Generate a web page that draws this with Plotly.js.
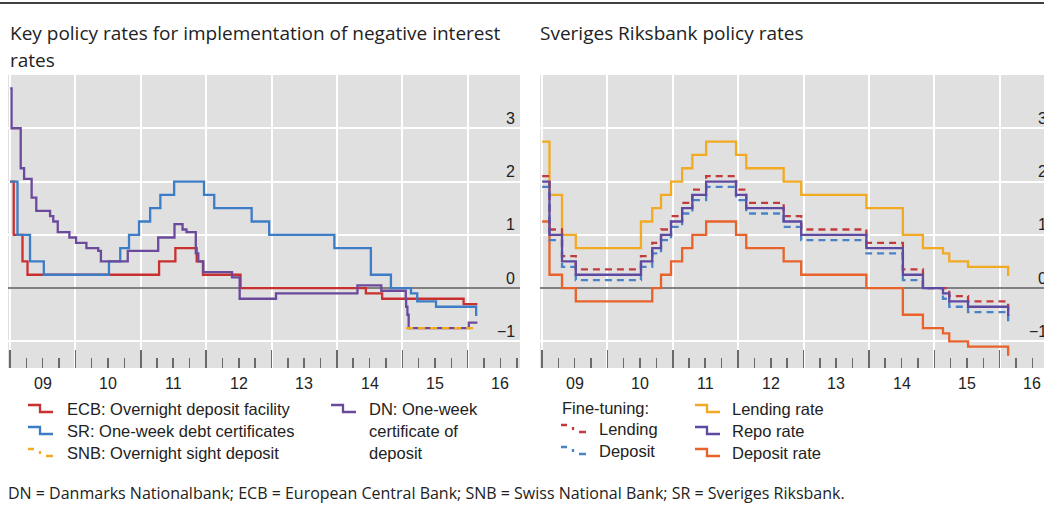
<!DOCTYPE html>
<html><head><meta charset="utf-8">
<script src="https://cdn.plot.ly/plotly-3.0.1.min.js"></script>
<style>html,body{margin:0;padding:0;background:#fff;overflow:hidden;width:1044px;height:506px}#chart{width:1060px;height:506px}</style>
</head><body><div id="chart"></div>
<script>
// ---------- Left panel data ----------
const ecbDates = ['2009-01-01','2009-01-21','2009-03-11','2009-04-08','2011-04-13','2011-07-13','2011-11-09','2011-12-14','2012-07-11','2014-06-11','2014-09-10','2015-12-09','2016-02-24'];
const ecbRates = [2.00,1.00,0.50,0.25,0.50,0.75,0.50,0.25,0.00,-0.10,-0.20,-0.30,-0.30];

const srDates = ['2009-01-01','2009-02-11','2009-04-22','2009-07-08','2010-07-07','2010-09-08','2010-10-27','2010-12-22','2011-02-22','2011-04-20','2011-07-06','2011-12-20','2012-02-15','2012-09-11','2012-12-18','2013-12-17','2014-07-09','2014-10-29','2015-02-18','2015-03-25','2015-07-08','2016-02-17','2016-02-24'];
const srRates = [2.00,1.00,0.50,0.25,0.50,0.75,1.00,1.25,1.50,1.75,2.00,1.75,1.50,1.25,1.00,0.75,0.25,0.00,-0.10,-0.25,-0.35,-0.50,-0.50];

const snbDates = ['2015-01-22','2016-02-24'];
const snbRates = [-0.75,-0.75];

const dnDates = ['2009-01-01','2009-01-09','2009-03-01','2009-03-20','2009-05-01','2009-05-27','2009-08-12','2009-08-30','2009-09-24','2009-11-28','2010-01-04','2010-03-03','2010-05-08','2010-05-23','2010-10-20','2011-04-08','2011-07-08','2011-08-22','2011-09-13','2011-11-04','2011-11-18','2011-12-16','2012-05-24','2012-07-06','2013-01-25','2014-04-25','2014-09-05','2015-01-20','2015-01-22','2015-01-29','2015-02-05','2016-01-07','2016-02-24'];
const dnRates = [3.75,3.00,2.25,2.05,1.70,1.45,1.35,1.25,1.05,0.95,0.85,0.75,0.70,0.50,0.70,0.95,1.20,1.10,1.05,0.65,0.50,0.30,0.20,-0.20,-0.10,0.05,-0.05,-0.20,-0.35,-0.50,-0.75,-0.65,-0.65];

// ---------- Right panel data (Sveriges Riksbank) ----------
const rbDates = ['2009-01-01','2009-02-11','2009-04-22','2009-07-08','2010-07-07','2010-09-08','2010-10-27','2010-12-22','2011-02-22','2011-04-20','2011-07-06','2011-12-20','2012-02-15','2012-09-11','2012-12-18','2013-12-17','2014-07-09','2014-10-29','2015-02-18','2015-03-25','2015-07-08','2016-02-17','2016-02-24'];
const lendingRate = [2.75,1.75,1.00,0.75,1.25,1.50,1.75,2.00,2.25,2.50,2.75,2.50,2.25,2.00,1.75,1.50,1.00,0.75,0.65,0.50,0.40,0.25,0.25];
const repoRate    = [2.00,1.00,0.50,0.25,0.50,0.75,1.00,1.25,1.50,1.75,2.00,1.75,1.50,1.25,1.00,0.75,0.25,0.00,-0.10,-0.25,-0.35,-0.50,-0.50];
const depositRate = [1.25,0.25,0.00,-0.25,-0.25,0.00,0.25,0.50,0.75,1.00,1.25,1.00,0.75,0.50,0.25,0.00,-0.50,-0.75,-0.85,-1.00,-1.10,-1.25,-1.25];
const ftLending   = [2.10,1.10,0.60,0.35,0.60,0.85,1.10,1.35,1.60,1.85,2.10,1.85,1.60,1.35,1.10,0.85,0.35,0.00,0.00,-0.15,-0.25,-0.40,-0.40];
const ftDeposit   = [1.90,0.90,0.40,0.15,0.40,0.65,0.90,1.15,1.40,1.65,1.90,1.65,1.40,1.15,0.90,0.65,0.15,0.00,-0.20,-0.35,-0.45,-0.60,-0.60];

// ---------- tick labels ----------
const yTickVals = [-1, 0, 1, 2, 3];
const yTickText = ['\u22121', '0', '1', '2', '3'];
const yearLabels = ['09', '10', '11', '12', '13', '14', '15', '16'];

// ---------- styles ----------
const C = {ecb:'#c8312f', sr:'#3d7cc6', snb:'#f2aa22', dn:'#6b4a9c',
           lend:'#f2aa22', repo:'#5e4aa0', dep:'#e8622a', ftl:'#c23a3a', ftd:'#4a82c6'};
const W = 1060, H = 506;
const px = x => x / W, py = y => 1 - y / H;
const LW = 2.3;
const TXT = 'Liberation Sans, Arial, sans-serif';
const TTL = 'Open Sans, Noto Sans, sans-serif';
const tickFont = {family: TXT, size: 16, color: '#222'};

function tr(x, y, color, xa, ya, dash) {
  return {x: x, y: y, type: 'scatter', mode: 'lines', xaxis: xa, yaxis: ya,
          line: {shape: 'hv', color: color, width: LW, dash: dash || 'solid'},
          hoverinfo: 'skip', showlegend: false};
}

const data = [
  tr(ecbDates, ecbRates, C.ecb, 'x', 'y'),
  tr(srDates, srRates, C.sr, 'x', 'y'),
  tr(dnDates, dnRates, C.dn, 'x', 'y'),
  tr(snbDates, snbRates, C.snb, 'x', 'y', '7px,5px'),
  tr(rbDates, lendingRate, C.lend, 'x2', 'y2'),
  tr(rbDates, depositRate, C.dep, 'x2', 'y2'),
  tr(rbDates, ftLending, C.ftl, 'x2', 'y2', '7px,5px'),
  tr(rbDates, ftDeposit, C.ftd, 'x2', 'y2', '7px,5px'),
  tr(rbDates, repoRate, C.repo, 'x2', 'y2')
];

function xAxis(dom, anchor) {
  return {domain: dom, anchor: anchor, type: 'date', range: ['2008-12-20', '2016-10-19'],
    tick0: '2009-01-01', dtick: 'M12', showticklabels: false,
    ticks: 'inside', ticklen: 18, tickwidth: 1.5, tickcolor: '#6a6a6a',
    showgrid: true, gridcolor: '#ffffff', gridwidth: 2, zeroline: false, showline: false,
    minor: {dtick: 'M3', tick0: '2009-01-01', ticks: 'inside', ticklen: 10, tickwidth: 1.5, tickcolor: '#6a6a6a', showgrid: false},
    fixedrange: true};
}
function yAxis(anchor) {
  return {domain: [py(368), py(75)], anchor: anchor, range: [-1.5, 4], side: 'right',
    tickvals: yTickVals, showticklabels: false, ticks: '',
    showgrid: true, gridcolor: '#ffffff', gridwidth: 2,
    zeroline: true, zerolinecolor: '#808080', zerolinewidth: 2, fixedrange: true};
}

const ann = [], shp = [];
function txt(x, y, t, font) {
  ann.push({xref: 'paper', yref: 'paper', x: px(x), y: py(y), xanchor: 'left', yanchor: 'middle',
            text: t, showarrow: false, font: font || {family: TXT, size: 16.5, color: '#222'}});
}
// axis tick labels (years centred in each year, values above their grid lines)
[['x', 'y', 517], ['x2', 'y2', 1049]].forEach(([xa, ya, xr]) => {
  yearLabels.forEach(l => ann.push({xref: xa, yref: 'paper', x: '20' + l + '-07-02', y: py(383),
    xanchor: 'center', yanchor: 'middle', text: l, showarrow: false, font: tickFont}));
  yTickVals.forEach((v, i) => ann.push({xref: 'paper', yref: ya, x: px(xr), y: v,
    xanchor: 'right', yanchor: 'middle', yshift: 10, text: yTickText[i], showarrow: false, font: tickFont}));
});

function stepSym(x0, yc, color, dashed) {
  const a = px(x0), b = px(x0 + 12), c = px(x0 + 25), t = py(yc - 4), u = py(yc + 3);
  if (!dashed) {
    shp.push({type: 'path', xref: 'paper', yref: 'paper', path: `M${a},${t} H${b} V${u} H${c}`,
              line: {color: color, width: LW}});
  } else {
    shp.push({type: 'path', xref: 'paper', yref: 'paper',
              path: `M${a},${t} H${px(x0 + 6)} M${b},${py(yc - 2)} V${py(yc + 1)} M${px(x0 + 18)},${u} H${c}`,
              line: {color: color, width: LW}});
  }
}
// left legend
const leftNames = ['ECB: Overnight deposit facility', 'SR: One-week debt certificates', 'SNB: Overnight sight deposit'];
const leftCols = [C.ecb, C.sr, C.snb];
const rowsY = [409, 431, 453];
leftNames.forEach((n, i) => { stepSym(28, rowsY[i], leftCols[i], i === 2); txt(65, rowsY[i], n); });
stepSym(331, 409, C.dn, false);
txt(367, 409, 'DN: One-week'); txt(367, 431, 'certificate of'); txt(367, 453, 'deposit');
// right legend
txt(560, 408, 'Fine-tuning:');
stepSym(561, 429, C.ftl, true); txt(597, 429, 'Lending');
stepSym(561, 451, C.ftd, true); txt(597, 451, 'Deposit');
const rightNames = ['Lending rate', 'Repo rate', 'Deposit rate'];
const rightCols = [C.lend, C.repo, C.dep];
rightNames.forEach((n, i) => { stepSym(695, rowsY[i], rightCols[i], false); txt(730, rowsY[i], n); });

// titles & footnote
const tf = {family: TTL, size: 19, color: '#222'};
txt(8, 33, 'Key policy rates for implementation of negative interest', tf);
txt(8, 60, 'rates', tf);
txt(538, 33, 'Sveriges Riksbank policy rates', tf);
txt(6, 493, 'DN = Danmarks Nationalbank; ECB = European Central Bank; SNB = Swiss National Bank; SR = Sveriges Riksbank.',
    {family: TTL, size: 16, color: '#222'});
// top rule
shp.push({type: 'line', xref: 'paper', yref: 'paper', x0: 0, x1: px(1044), y0: py(3), y1: py(3), line: {color: '#000', width: 1.5}});

const layout = {
  width: W, height: H, margin: {l: 0, r: 0, t: 0, b: 0},
  paper_bgcolor: '#ffffff', plot_bgcolor: '#e0e0e0', showlegend: false,
  xaxis: xAxis([px(8), px(520)], 'y'), yaxis: yAxis('x'),
  xaxis2: xAxis([px(540), px(1052)], 'y2'), yaxis2: yAxis('x2'),
  annotations: ann, shapes: shp
};
Plotly.newPlot('chart', data, layout, {staticPlot: true, displayModeBar: false});
</script></body></html>
